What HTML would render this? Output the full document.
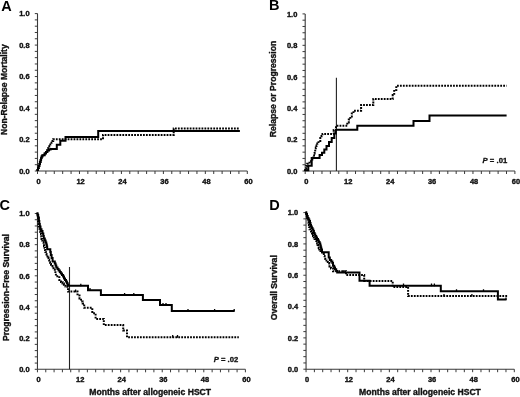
<!DOCTYPE html>
<html><head><meta charset="utf-8"><style>
html,body{margin:0;padding:0;background:#fff;}
svg{display:block;filter:grayscale(1) blur(0.35px);}
text{font-family:"Liberation Sans", sans-serif;font-weight:bold;fill:#111;stroke-linejoin:round;}
.tl{font-size:7.8px;stroke:#111;stroke-width:0.4px;}
.pl{font-size:14.5px;fill:#000;}
.at{font-size:8.6px;stroke:#111;stroke-width:0.35px;}
.pv{font-size:7.7px;stroke:#111;stroke-width:0.3px;}
</style></head><body>
<svg width="520" height="397" viewBox="0 0 520 397">
<rect width="520" height="397" fill="#fff"/>
<path d="M37.5,13.6 V171.0 H247.3" fill="none" stroke="#3a3a3a" stroke-width="1.1"/>
<path d="M34.8,171.00 H37.5 M34.8,164.70 H37.5 M34.8,158.41 H37.5 M34.8,152.11 H37.5 M34.8,145.82 H37.5 M34.8,139.52 H37.5 M34.8,133.22 H37.5 M34.8,126.93 H37.5 M34.8,120.63 H37.5 M34.8,114.34 H37.5 M34.8,108.04 H37.5 M34.8,101.74 H37.5 M34.8,95.45 H37.5 M34.8,89.15 H37.5 M34.8,82.86 H37.5 M34.8,76.56 H37.5 M34.8,70.26 H37.5 M34.8,63.97 H37.5 M34.8,57.67 H37.5 M34.8,51.38 H37.5 M34.8,45.08 H37.5 M34.8,38.78 H37.5 M34.8,32.49 H37.5 M34.8,26.19 H37.5 M34.8,19.90 H37.5 M34.8,13.60 H37.5 M37.50,171.0 V174.0 M45.89,171.0 V174.0 M54.28,171.0 V174.0 M62.68,171.0 V174.0 M71.07,171.0 V174.0 M79.46,171.0 V174.0 M87.85,171.0 V174.0 M96.24,171.0 V174.0 M104.64,171.0 V174.0 M113.03,171.0 V174.0 M121.42,171.0 V174.0 M129.81,171.0 V174.0 M138.20,171.0 V174.0 M146.60,171.0 V174.0 M154.99,171.0 V174.0 M163.38,171.0 V174.0 M171.77,171.0 V174.0 M180.16,171.0 V174.0 M188.56,171.0 V174.0 M196.95,171.0 V174.0 M205.34,171.0 V174.0 M213.73,171.0 V174.0 M222.12,171.0 V174.0 M230.52,171.0 V174.0 M238.91,171.0 V174.0 M247.30,171.0 V174.0" fill="none" stroke="#3a3a3a" stroke-width="1"/>
<text transform="translate(29.60,173.80) scale(0.96,1.02)" class="tl" text-anchor="end">0.0</text>
<text transform="translate(29.60,142.32) scale(0.96,1.02)" class="tl" text-anchor="end">0.2</text>
<text transform="translate(29.60,110.84) scale(0.96,1.02)" class="tl" text-anchor="end">0.4</text>
<text transform="translate(29.60,79.36) scale(0.96,1.02)" class="tl" text-anchor="end">0.6</text>
<text transform="translate(29.60,47.88) scale(0.96,1.02)" class="tl" text-anchor="end">0.8</text>
<text transform="translate(29.60,16.40) scale(0.96,1.02)" class="tl" text-anchor="end">1.0</text>
<text transform="translate(38.60,183.90) scale(0.96,1.02)" class="tl" text-anchor="middle">0</text>
<text transform="translate(80.56,183.90) scale(0.96,1.02)" class="tl" text-anchor="middle">12</text>
<text transform="translate(122.52,183.90) scale(0.96,1.02)" class="tl" text-anchor="middle">24</text>
<text transform="translate(164.48,183.90) scale(0.96,1.02)" class="tl" text-anchor="middle">36</text>
<text transform="translate(206.44,183.90) scale(0.96,1.02)" class="tl" text-anchor="middle">48</text>
<text transform="translate(248.40,183.90) scale(0.96,1.02)" class="tl" text-anchor="middle">60</text>
<path d="M305.2,13.9 V171.0 H514.9" fill="none" stroke="#3a3a3a" stroke-width="1.1"/>
<path d="M302.5,171.00 H305.2 M302.5,164.72 H305.2 M302.5,158.43 H305.2 M302.5,152.15 H305.2 M302.5,145.86 H305.2 M302.5,139.58 H305.2 M302.5,133.30 H305.2 M302.5,127.01 H305.2 M302.5,120.73 H305.2 M302.5,114.44 H305.2 M302.5,108.16 H305.2 M302.5,101.88 H305.2 M302.5,95.59 H305.2 M302.5,89.31 H305.2 M302.5,83.02 H305.2 M302.5,76.74 H305.2 M302.5,70.46 H305.2 M302.5,64.17 H305.2 M302.5,57.89 H305.2 M302.5,51.60 H305.2 M302.5,45.32 H305.2 M302.5,39.04 H305.2 M302.5,32.75 H305.2 M302.5,26.47 H305.2 M302.5,20.18 H305.2 M302.5,13.90 H305.2 M305.20,171.0 V174.0 M313.59,171.0 V174.0 M321.98,171.0 V174.0 M330.36,171.0 V174.0 M338.75,171.0 V174.0 M347.14,171.0 V174.0 M355.53,171.0 V174.0 M363.92,171.0 V174.0 M372.30,171.0 V174.0 M380.69,171.0 V174.0 M389.08,171.0 V174.0 M397.47,171.0 V174.0 M405.86,171.0 V174.0 M414.24,171.0 V174.0 M422.63,171.0 V174.0 M431.02,171.0 V174.0 M439.41,171.0 V174.0 M447.80,171.0 V174.0 M456.18,171.0 V174.0 M464.57,171.0 V174.0 M472.96,171.0 V174.0 M481.35,171.0 V174.0 M489.74,171.0 V174.0 M498.12,171.0 V174.0 M506.51,171.0 V174.0 M514.90,171.0 V174.0" fill="none" stroke="#3a3a3a" stroke-width="1"/>
<text transform="translate(297.30,173.80) scale(0.96,1.02)" class="tl" text-anchor="end">0.0</text>
<text transform="translate(297.30,142.38) scale(0.96,1.02)" class="tl" text-anchor="end">0.2</text>
<text transform="translate(297.30,110.96) scale(0.96,1.02)" class="tl" text-anchor="end">0.4</text>
<text transform="translate(297.30,79.54) scale(0.96,1.02)" class="tl" text-anchor="end">0.6</text>
<text transform="translate(297.30,48.12) scale(0.96,1.02)" class="tl" text-anchor="end">0.8</text>
<text transform="translate(297.30,16.70) scale(0.96,1.02)" class="tl" text-anchor="end">1.0</text>
<text transform="translate(306.30,183.90) scale(0.96,1.02)" class="tl" text-anchor="middle">0</text>
<text transform="translate(348.24,183.90) scale(0.96,1.02)" class="tl" text-anchor="middle">12</text>
<text transform="translate(390.18,183.90) scale(0.96,1.02)" class="tl" text-anchor="middle">24</text>
<text transform="translate(432.12,183.90) scale(0.96,1.02)" class="tl" text-anchor="middle">36</text>
<text transform="translate(474.06,183.90) scale(0.96,1.02)" class="tl" text-anchor="middle">48</text>
<text transform="translate(516.00,183.90) scale(0.96,1.02)" class="tl" text-anchor="middle">60</text>
<path d="M37.45,213.5 V369.3 H245.4" fill="none" stroke="#3a3a3a" stroke-width="1.1"/>
<path d="M34.75,369.30 H37.45 M34.75,363.07 H37.45 M34.75,356.84 H37.45 M34.75,350.60 H37.45 M34.75,344.37 H37.45 M34.75,338.14 H37.45 M34.75,331.91 H37.45 M34.75,325.68 H37.45 M34.75,319.44 H37.45 M34.75,313.21 H37.45 M34.75,306.98 H37.45 M34.75,300.75 H37.45 M34.75,294.52 H37.45 M34.75,288.28 H37.45 M34.75,282.05 H37.45 M34.75,275.82 H37.45 M34.75,269.59 H37.45 M34.75,263.36 H37.45 M34.75,257.12 H37.45 M34.75,250.89 H37.45 M34.75,244.66 H37.45 M34.75,238.43 H37.45 M34.75,232.20 H37.45 M34.75,225.96 H37.45 M34.75,219.73 H37.45 M34.75,213.50 H37.45 M37.45,369.3 V372.3 M45.77,369.3 V372.3 M54.09,369.3 V372.3 M62.40,369.3 V372.3 M70.72,369.3 V372.3 M79.04,369.3 V372.3 M87.36,369.3 V372.3 M95.68,369.3 V372.3 M103.99,369.3 V372.3 M112.31,369.3 V372.3 M120.63,369.3 V372.3 M128.95,369.3 V372.3 M137.27,369.3 V372.3 M145.58,369.3 V372.3 M153.90,369.3 V372.3 M162.22,369.3 V372.3 M170.54,369.3 V372.3 M178.86,369.3 V372.3 M187.17,369.3 V372.3 M195.49,369.3 V372.3 M203.81,369.3 V372.3 M212.13,369.3 V372.3 M220.45,369.3 V372.3 M228.76,369.3 V372.3 M237.08,369.3 V372.3 M245.40,369.3 V372.3" fill="none" stroke="#3a3a3a" stroke-width="1"/>
<text transform="translate(29.55,372.10) scale(0.96,1.02)" class="tl" text-anchor="end">0.0</text>
<text transform="translate(29.55,340.94) scale(0.96,1.02)" class="tl" text-anchor="end">0.2</text>
<text transform="translate(29.55,309.78) scale(0.96,1.02)" class="tl" text-anchor="end">0.4</text>
<text transform="translate(29.55,278.62) scale(0.96,1.02)" class="tl" text-anchor="end">0.6</text>
<text transform="translate(29.55,247.46) scale(0.96,1.02)" class="tl" text-anchor="end">0.8</text>
<text transform="translate(29.55,216.30) scale(0.96,1.02)" class="tl" text-anchor="end">1.0</text>
<text transform="translate(38.55,382.20) scale(0.96,1.02)" class="tl" text-anchor="middle">0</text>
<text transform="translate(80.14,382.20) scale(0.96,1.02)" class="tl" text-anchor="middle">12</text>
<text transform="translate(121.73,382.20) scale(0.96,1.02)" class="tl" text-anchor="middle">24</text>
<text transform="translate(163.32,382.20) scale(0.96,1.02)" class="tl" text-anchor="middle">36</text>
<text transform="translate(204.91,382.20) scale(0.96,1.02)" class="tl" text-anchor="middle">48</text>
<text transform="translate(246.50,382.20) scale(0.96,1.02)" class="tl" text-anchor="middle">60</text>
<path d="M306.05,212.6 V369.2 H514.3" fill="none" stroke="#3a3a3a" stroke-width="1.1"/>
<path d="M303.35,369.20 H306.05 M303.35,362.94 H306.05 M303.35,356.67 H306.05 M303.35,350.41 H306.05 M303.35,344.14 H306.05 M303.35,337.88 H306.05 M303.35,331.62 H306.05 M303.35,325.35 H306.05 M303.35,319.09 H306.05 M303.35,312.82 H306.05 M303.35,306.56 H306.05 M303.35,300.30 H306.05 M303.35,294.03 H306.05 M303.35,287.77 H306.05 M303.35,281.50 H306.05 M303.35,275.24 H306.05 M303.35,268.98 H306.05 M303.35,262.71 H306.05 M303.35,256.45 H306.05 M303.35,250.18 H306.05 M303.35,243.92 H306.05 M303.35,237.66 H306.05 M303.35,231.39 H306.05 M303.35,225.13 H306.05 M303.35,218.86 H306.05 M303.35,212.60 H306.05 M306.05,369.2 V372.2 M314.38,369.2 V372.2 M322.71,369.2 V372.2 M331.04,369.2 V372.2 M339.37,369.2 V372.2 M347.70,369.2 V372.2 M356.03,369.2 V372.2 M364.36,369.2 V372.2 M372.69,369.2 V372.2 M381.02,369.2 V372.2 M389.35,369.2 V372.2 M397.68,369.2 V372.2 M406.01,369.2 V372.2 M414.34,369.2 V372.2 M422.67,369.2 V372.2 M431.00,369.2 V372.2 M439.33,369.2 V372.2 M447.66,369.2 V372.2 M455.99,369.2 V372.2 M464.32,369.2 V372.2 M472.65,369.2 V372.2 M480.98,369.2 V372.2 M489.31,369.2 V372.2 M497.64,369.2 V372.2 M505.97,369.2 V372.2 M514.30,369.2 V372.2" fill="none" stroke="#3a3a3a" stroke-width="1"/>
<text transform="translate(298.15,372.00) scale(0.96,1.02)" class="tl" text-anchor="end">0.0</text>
<text transform="translate(298.15,340.68) scale(0.96,1.02)" class="tl" text-anchor="end">0.2</text>
<text transform="translate(298.15,309.36) scale(0.96,1.02)" class="tl" text-anchor="end">0.4</text>
<text transform="translate(298.15,278.04) scale(0.96,1.02)" class="tl" text-anchor="end">0.6</text>
<text transform="translate(298.15,246.72) scale(0.96,1.02)" class="tl" text-anchor="end">0.8</text>
<text transform="translate(298.15,215.40) scale(0.96,1.02)" class="tl" text-anchor="end">1.0</text>
<text transform="translate(307.15,382.10) scale(0.96,1.02)" class="tl" text-anchor="middle">0</text>
<text transform="translate(348.80,382.10) scale(0.96,1.02)" class="tl" text-anchor="middle">12</text>
<text transform="translate(390.45,382.10) scale(0.96,1.02)" class="tl" text-anchor="middle">24</text>
<text transform="translate(432.10,382.10) scale(0.96,1.02)" class="tl" text-anchor="middle">36</text>
<text transform="translate(473.75,382.10) scale(0.96,1.02)" class="tl" text-anchor="middle">48</text>
<text transform="translate(515.40,382.10) scale(0.96,1.02)" class="tl" text-anchor="middle">60</text>
<text x="1.3" y="11.4" class="pl">A</text>
<text x="268.9" y="10.3" class="pl">B</text>
<text x="-0.5" y="209.9" class="pl">C</text>
<text x="269.2" y="209.8" class="pl">D</text>
<text transform="translate(7.0,89.6) rotate(-90)" x="0" y="0" class="at" text-anchor="middle">Non-Relapse Mortality</text>
<text transform="translate(276.2,89.0) rotate(-90)" x="0" y="0" class="at" text-anchor="middle">Relapse or Progression</text>
<text transform="translate(8.6,287.6) rotate(-90)" x="0" y="0" class="at" text-anchor="middle">Progression-Free Survival</text>
<text transform="translate(276.9,287.7) rotate(-90)" x="0" y="0" class="at" text-anchor="middle">Overall Survival</text>
<text x="150.2" y="394.8" class="at" text-anchor="middle">Months after allogeneic HSCT</text>
<text x="420" y="394.8" class="at" text-anchor="middle">Months after allogeneic HSCT</text>
<text x="482.6" y="163.2" class="pv"><tspan font-style="italic">P</tspan> = .01</text>
<text x="213.7" y="362.0" class="pv"><tspan font-style="italic">P</tspan> = .02</text>
<path d="M336.4,77.8 V171 M69.5,266.9 V369.3" stroke="#222" stroke-width="1.1"/>
<path d="M37.5,171 V170 H38 V168 H38.7 V166 H39.3 V164 H39.9 V162 H40.5 V160 H41.1 V158 H41.7 V156.5 H42.3 V155.3 H44.7 V153.5 H46 V152 H47.4 V150.6 H49 V149.6 H50.6 V148.9 H56.8 V144.8 H60.3 V140.8 H65.5 V137.1 H98.2 V131.1 H239.9" fill="none" stroke="#000" stroke-width="2" stroke-linejoin="miter" stroke-linecap="butt"/>
<path d="M37.5,171 V170 H38 V168 H38.7 V166 H39.3 V164 H39.9 V162 H40.5 V160 H41.1 V158 H41.7 V156.5 H42.3 V155.3 H44.7 V153.5 H46 V152 H47.4 V150 H48.3 V148 H49.3 V146.3 H50.3 V144.5 H51.5 V142.7 H52.5 V141 H53.2 V139.2 H103 V134.9 H173.7 V128.5 H239.5" fill="none" stroke="#000" stroke-width="2" stroke-dasharray="1.8 1.15" stroke-linecap="butt"/>
<path d="M305.2,171 V170.3 H308.3 V165.8 H311.7 V158 H319.6 V155 H322 V152.7 H324.3 V149.5 H326.5 V146 H329 V142 H331.7 V138 H334.3 V133.5 H335.7 V129.7 H357.3 V125.7 H413.5 V120.9 H429.5 V115.6 H506.6" fill="none" stroke="#000" stroke-width="2" stroke-linejoin="miter" stroke-linecap="butt"/>
<path d="M305.2,171 V168.5 H306.2 V166 H307.2 V163.7 H309.5 V161.5 H311 V159.5 H312.3 V157.5 H313.3 V155.5 H314 V153.5 H314.6 V151.5 H315.2 V149.5 H315.8 V147.5 H316.5 V145.5 H317.3 V143.5 H318.5 V141 H320.3 V138 H321.5 V136 H322.5 V134 H333.7 V130 H336 V125.7 H347.3 V122.5 H348.8 V119.5 H350.3 V116.5 H351.8 V113.5 H353.5 V110.7 H361.1 V105 H373.3 V99.1 H392.7 V95 H394.2 V90 H396.3 V85.8 H506.6" fill="none" stroke="#000" stroke-width="2" stroke-dasharray="1.8 1.15" stroke-linecap="butt"/>
<path d="M36.5,213.5 H37.6 V215 H38.2 V217.6 H38.9 V221 H39.3 V224 H39.8 V226.5 H40.5 V229.3 H41.5 V231 H42.5 V233.5 H43.3 V236 H43.8 V238.5 H44.8 V240.5 H45.6 V242.5 H46.3 V244.5 H46.8 V246.5 H47.2 V249.3 H50.3 V252 H50.8 V255 H51.6 V258 H52.6 V261.4 H54.8 V263.5 H55.6 V265.5 H56.3 V267.5 H57.5 V269 H58.6 V270.5 H59.8 V272 H60.8 V273.5 H62 V275 H63.1 V276.5 H64 V278.5 H65 V280 H66 V281.5 H66.9 V283 H67.5 V284.5 H68 V285.7 H88 V290.2 H100.9 V295.1 H142.9 V300 H160 V305.1 H171.8 V311 H234.5" fill="none" stroke="#000" stroke-width="2" stroke-linejoin="miter" stroke-linecap="butt"/>
<path d="M36.5,213.5 H37.3 V215 H37.8 V217.6 H38.1 V221 H38.4 V224 H38.8 V226.5 H39.3 V228.5 H39.8 V230.5 H40.3 V232 H41 V234 H41.3 V236.5 H41.5 V239 H42.2 V240.5 H42.8 V242.5 H43.5 V244 H44 V246 H44.5 V247.8 H45 V250 H45.4 V252 H45.8 V254 H46.5 V255.6 H47.5 V257.6 H48.5 V260.1 H49.2 V262.3 H50 V264 H51 V266 H52.5 V268.3 H53.6 V269.8 H54.8 V271.3 H55.4 V273.5 H55.9 V276.2 H59.3 V280 H61 V282 H62.5 V283.5 H63.9 V284.8 H65.5 V286.5 H67.3 V288.2 H68 V291.6 H77.5 V295.4 H79.5 V298.5 H81 V301.5 H82.7 V303.5 H84.2 V307.7 H92.3 V313.2 H95.6 V318.9 H103.8 V325.1 H123.2 V330.5 H127 V337.2 H238.8" fill="none" stroke="#000" stroke-width="2" stroke-dasharray="1.8 1.15" stroke-linecap="butt"/>
<path d="M305.5,212.6 H306.2 V214 H307 V216 H307.7 V218 H308.5 V219.5 H309.3 V221 H310 V223 H310.5 V225 H311 V226.5 H311.8 V228 H312.5 V229.5 H313.3 V231 H313.9 V233 H314.6 V234.5 H315.3 V236 H316.2 V237.5 H317 V239 H318 V240.5 H318.8 V242 H319.6 V243.5 H320.3 V245.5 H320.8 V247.5 H321.3 V249.5 H322 V252.2 H328.7 V257.5 H329.8 V260.1 H331.2 V261.5 H332.4 V263 H333 V265.8 H334.2 V267.5 H335 V269.3 H336.2 V271 H337.2 V272.4 H359.5 V280.7 H369.6 V285.7 H440.8 V291.3 H497.9 V299.6 H506.5" fill="none" stroke="#000" stroke-width="2" stroke-linejoin="miter" stroke-linecap="butt"/>
<path d="M305.5,212.6 H306.2 V214 H306.8 V216 H307.2 V218 H307.8 V219.5 H308.2 V221 H308.6 V223 H308.9 V225 H309.2 V227 H309.5 V229.3 H310.3 V231 H311 V233 H312 V234.5 H313 V236 H313.8 V237.5 H314.6 V239 H315.4 V240.5 H316.3 V242 H317.1 V243.5 H317.6 V245 H318.1 V246.5 H318.7 V248 H319.3 V249.5 H320.5 V251 H321.5 V252.5 H322.4 V254 H323.8 V256 H324.6 V257.5 H325.3 V259 H326.5 V260.5 H327.8 V262 H328.7 V263 H329.2 V265 H329.5 V266.5 H331 V268.5 H333 V271.2 H346 V275 H364.2 V281.1 H392.7 V286.9 H408.1 V296 H507.5" fill="none" stroke="#000" stroke-width="2" stroke-dasharray="1.8 1.15" stroke-linecap="butt"/>
<path d="M80.8,286.3 V283.7 M90,290.7 V288.09999999999997 M124.6,295.6 V293.0 M133.8,295.6 V293.0 M163,305.6 V303.0 M166,305.6 V303.0 M188,311.5 V308.9 M214.6,311.5 V308.9 M234.2,311.5 V308.9 M75.6,292.2 V289.59999999999997 M172.7,337.7 V335.09999999999997 M177.5,337.7 V335.09999999999997 M343.7,272.9 V270.29999999999995 M403.5,286.2 V283.59999999999997 M431.5,286.2 V283.59999999999997 M434.4,286.2 V283.59999999999997 M456.5,291.8 V289.2 M483.5,291.8 V289.2 M506,300.1 V297.5 M444,296.5 V293.9 M471.9,296.5 V293.9" stroke="#000" stroke-width="1.3" fill="none"/>
</svg>
</body></html>
